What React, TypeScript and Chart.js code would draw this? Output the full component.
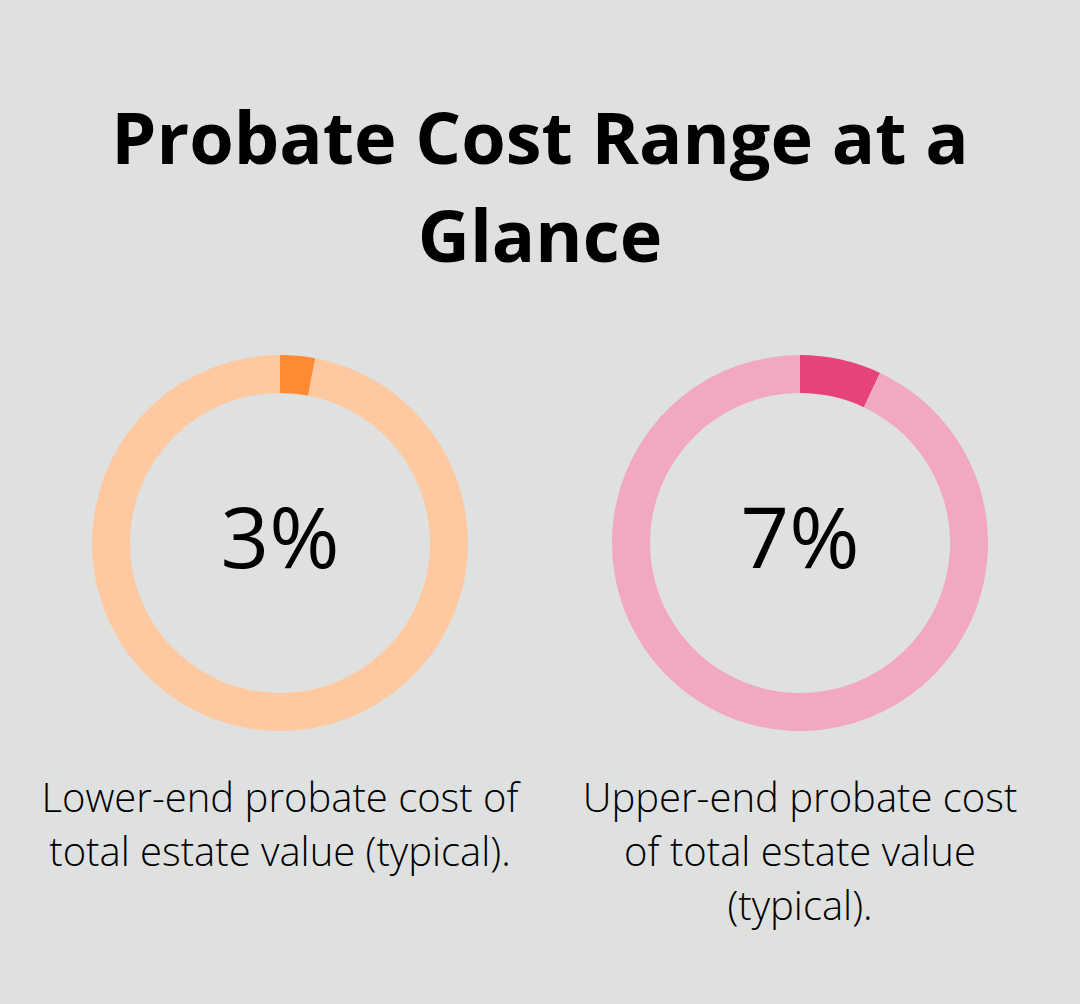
import React, { useEffect, useRef } from "react";
import Chart from "chart.js/auto";

// Datos del gráfico
const percentValues = [3, 7];
const centerLabels = ["3%", "7%"];
const captionLines = [
  ["Lower-end probate cost of", "total estate value (typical)."],
  ["Upper-end probate cost", "of total estate value", "(typical)."],
];
const highlightColors = ["#fe8a33", "#e5437a"];
const trackColors = ["#fec9a1", "#f2a8bf"];

const TITLE = ["Probate Cost Range at a", "Glance"];
const FONT = "'Open Sans', 'Noto Sans', sans-serif";
const SIZE = 376;

const Donut = ({ index }: { index: number }) => {
  const canvasRef = useRef<HTMLCanvasElement | null>(null);

  useEffect(() => {
    if (!canvasRef.current) return;
    const value = percentValues[index];
    const chart = new Chart(canvasRef.current, {
      type: "doughnut",
      data: {
        labels: ["share", "rest"],
        datasets: [
          {
            data: [value, 100 - value],
            backgroundColor: [highlightColors[index], trackColors[index]],
            borderWidth: 0,
          },
        ],
      },
      options: {
        responsive: false,
        animation: false,
        cutout: "79.8%",
        layout: { padding: 0 },
        plugins: {
          legend: { display: false },
          tooltip: { enabled: false },
        },
      },
    });
    return () => chart.destroy();
  }, [index]);

  return <canvas ref={canvasRef} width={SIZE} height={SIZE} />;
};

const App = () => {
  const centersX = [280, 800];

  return (
    <div
      style={{
        position: "absolute",
        left: 0,
        top: 0,
        width: 1080,
        height: 1004,
        background: "#dfe1e0",
        fontFamily: FONT,
        color: "#000",
        overflow: "hidden",
      }}
    >
      <div
        style={{
          position: "absolute",
          top: 87,
          left: 0,
          width: 1080,
          textAlign: "center",
          fontSize: 72,
          fontWeight: 700,
          lineHeight: "98px",
        }}
      >
        {TITLE.map((t) => (
          <div key={t}>{t}</div>
        ))}
      </div>

      {centersX.map((cx, i) => (
        <React.Fragment key={i}>
          <div style={{ position: "absolute", left: cx - SIZE / 2, top: 355, width: SIZE, height: SIZE }}>
            <Donut index={i} />
          </div>
          <div
            style={{
              position: "absolute",
              left: cx - 200,
              top: 485,
              width: 400,
              textAlign: "center",
              fontSize: 85,
              fontWeight: 500,
              lineHeight: "100px",
            }}
          >
            {centerLabels[i]}
          </div>
          <div
            style={{
              position: "absolute",
              left: cx - 260,
              top: 770,
              width: 520,
              textAlign: "center",
              fontSize: 40,
              fontWeight: 300,
              lineHeight: "54px",
            }}
          >
            {captionLines[i].map((line) => (
              <div key={line}>{line}</div>
            ))}
          </div>
        </React.Fragment>
      ))}
    </div>
  );
};

export default App;
